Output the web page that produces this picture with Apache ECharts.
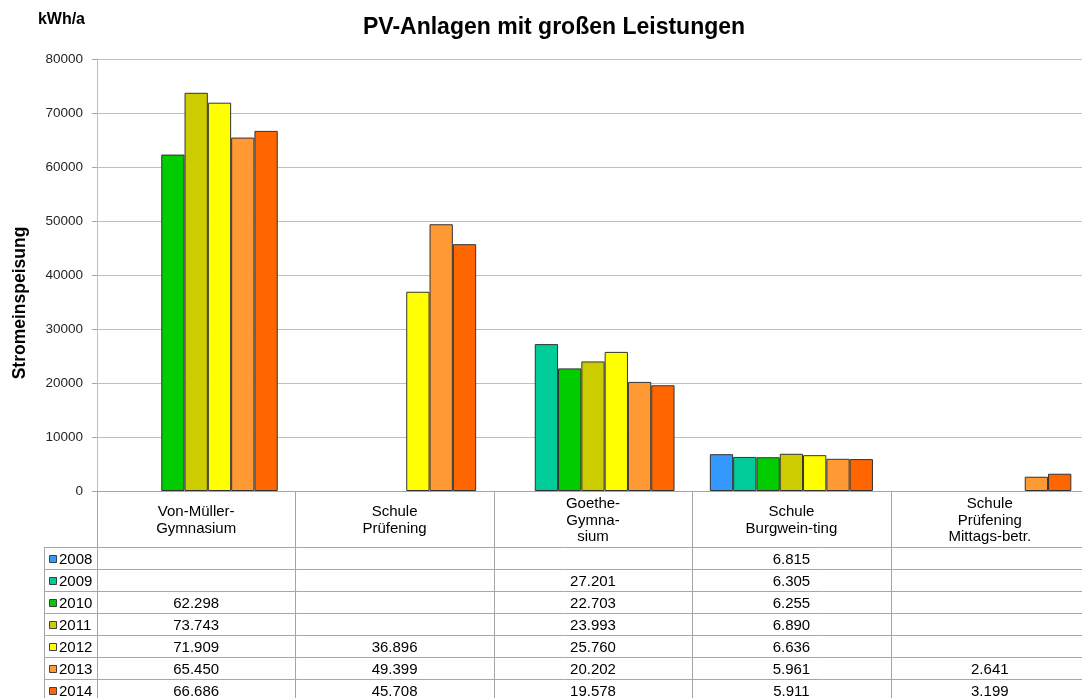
<!DOCTYPE html>
<html lang="de">
<head>
<meta charset="UTF-8">
<title>PV-Anlagen mit großen Leistungen</title>
<script src="https://cdn.jsdelivr.net/npm/echarts@6/dist/echarts.min.js"></script>
<style>
    html, body { margin: 0; padding: 0; background: #fff; overflow: hidden; }
    #main { width: 1082px; height: 698px; }
</style>
</head>
<body>
<div id="main"></div>
<script>
    // Kategorien (Schulen) und Jahre
    var schools = ['Von-Müller-\nGymnasium', 'Schule\nPrüfening', 'Goethe-\nGymna-\nsium',
                   'Schule\nBurgwein-ting', 'Schule\nPrüfening\nMittags-betr.'];
    var years = ['2008', '2009', '2010', '2011', '2012', '2013', '2014'];
    var colors = ['#3399ff', '#00cc99', '#00cc00', '#cccc00', '#ffff00', '#ff9933', '#ff6600'];

    // Stromeinspeisung in kWh/a
    var v2008 = [null, null, null, 6815, null];
    var v2009 = [null, null, 27201, 6305, null];
    var v2010 = [62298, null, 22703, 6255, null];
    var v2011 = [73743, null, 23993, 6890, null];
    var v2012 = [71909, 36896, 25760, 6636, null];
    var v2013 = [65450, 49399, 20202, 5961, 2641];
    var v2014 = [66686, 45708, 19578, 5911, 3199];
    var values = [v2008, v2009, v2010, v2011, v2012, v2013, v2014];

    var FONT = '"Liberation Sans", Arial, sans-serif';
    var gridLeft = 97, gridTop = 59, gridW = 992, gridH = 432;
    var headerH = 56, rowH = 22;
    var lineCol = '#a6a6a6';

    // 1.234-Format
    function fmt(v) {
        var t = Math.floor(v / 1000), r = String(v % 1000);
        while (r.length < 3) r = '0' + r;
        return t > 0 ? t + '.' + r : String(v);
    }

    var myChart = echarts.init(document.getElementById('main'));

    var series = years.map(function (y, i) {
        return {
            name: y,
            type: 'bar',
            data: values[i],
            barGap: '0%',
            barCategoryGap: '17.8%',
            itemStyle: { color: colors[i], borderColor: '#333', borderWidth: 1 }
        };
    });

    var option = {
        animation: false,
        textStyle: { fontFamily: FONT },
        title: {
            text: 'PV-Anlagen mit großen Leistungen',
            left: 358, top: 11,
            textStyle: { fontSize: 23, fontWeight: 'bold', color: '#000', fontFamily: FONT }
        },
        grid: { left: gridLeft, top: gridTop, width: gridW, height: gridH, outerBoundsMode: 'none' },
        xAxis: {
            type: 'category',
            data: schools,
            axisLine: { lineStyle: { color: lineCol } },
            axisTick: { show: false },
            axisLabel: {
                interval: 0, margin: 29.5, verticalAlign: 'middle',
                fontSize: 15, lineHeight: 16.5, color: '#000', fontFamily: FONT
            }
        },
        yAxis: {
            type: 'value',
            min: 0, max: 80000, interval: 10000,
            name: 'kWh/a',
            nameLocation: 'end',
            nameGap: 31,
            nameTextStyle: { fontSize: 16, fontWeight: 'bold', color: '#000', align: 'right', padding: [0, 12, 0, 0] },
            axisLine: { show: true, lineStyle: { color: '#bfbfbf' } },
            axisTick: { show: true, length: 5, lineStyle: { color: lineCol } },
            splitLine: { lineStyle: { color: '#bfbfbf' } },
            axisLabel: { fontSize: 13.5, color: '#262626', margin: 14, fontFamily: FONT,
                         formatter: function (v) { return String(v); } }
        },
        series: series
    };
    myChart.setOption(option);

    // Datentabelle unter dem Diagramm
    var c0 = myChart.convertToPixel({ xAxisIndex: 0 }, 0);
    var c1 = myChart.convertToPixel({ xAxisIndex: 0 }, 1);
    var colW = c1 - c0;
    var yAxis0 = gridTop + gridH;
    var tableTop = yAxis0 + headerH;
    var tableLeft = 44, tableRight = c0 - colW / 2 + colW * schools.length;
    var g = [];
    function px(v) { return Math.round(v) + 0.5; }

    for (var k = 0; k <= schools.length; k++) {
        var x = px(c0 - colW / 2 + k * colW);
        g.push({ type: 'line', shape: { x1: x, y1: yAxis0, x2: x, y2: 698 },
                 style: { stroke: lineCol, lineWidth: 1 } });
    }
    g.push({ type: 'line', shape: { x1: px(tableLeft), y1: tableTop, x2: px(tableLeft), y2: 698 },
             style: { stroke: lineCol, lineWidth: 1 } });
    for (var r = 0; r <= years.length; r++) {
        var y = px(tableTop + r * rowH);
        g.push({ type: 'line', shape: { x1: tableLeft, y1: y, x2: tableRight, y2: y },
                 style: { stroke: lineCol, lineWidth: 1 } });
    }
    years.forEach(function (yr, i) {
        var cy = tableTop + i * rowH + rowH / 2 + 1.5;
        g.push({ type: 'rect', shape: { x: 49.5, y: Math.round(cy) - 4.5, width: 7, height: 7 },
                 style: { fill: colors[i], stroke: '#404040', lineWidth: 1 } });
        g.push({ type: 'text', x: 59, y: cy,
                 style: { text: yr, font: '15px ' + FONT, fill: '#000', verticalAlign: 'middle' } });
        values[i].forEach(function (v, j) {
            if (v == null) return;
            var cx = myChart.convertToPixel({ xAxisIndex: 0 }, j);
            g.push({ type: 'text', x: cx, y: cy,
                     style: { text: fmt(v), font: '15px ' + FONT, fill: '#000', align: 'center', verticalAlign: 'middle' } });
        });
    });
    g.push({ type: 'text', rotation: Math.PI / 2, x: 20, y: 303,
             style: { text: 'Stromeinspeisung', font: 'bold 17.5px ' + FONT, fill: '#000', align: 'center', verticalAlign: 'middle' } });

    myChart.setOption({ graphic: g });
</script>
</body>
</html>
